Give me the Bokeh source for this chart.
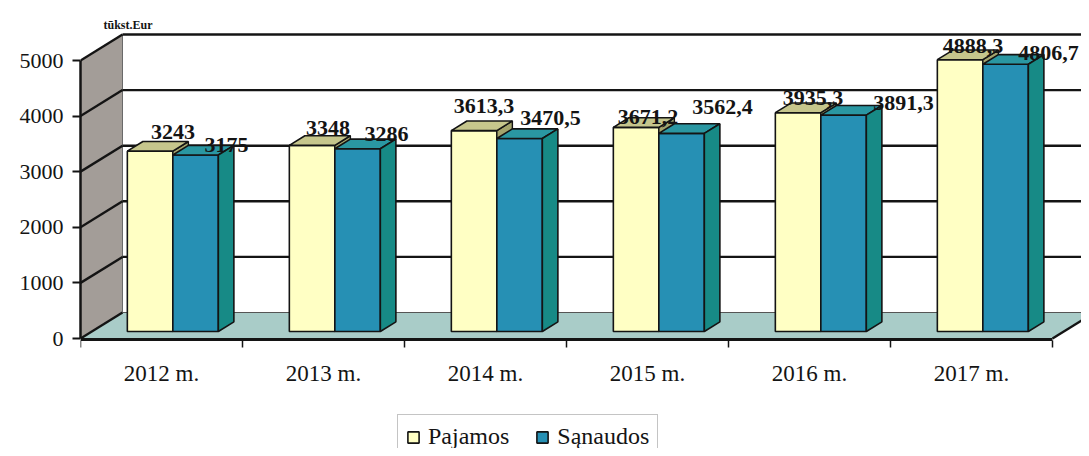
import numpy as np
from bokeh.plotting import figure
from bokeh.models import Range1d, FixedTicker, Legend, LegendItem
from bokeh.core.properties import value
from bokeh.embed import file_html
from bokeh.resources import INLINE

# ---------------- data ----------------
years = ["2012 m.", "2013 m.", "2014 m.", "2015 m.", "2016 m.", "2017 m."]
pajamos = [3243, 3348, 3613.3, 3671.2, 3935.3, 4888.3]
sanaudos = [3175, 3286, 3470.5, 3562.4, 3891.3, 4806.7]
y_ticks = [0, 1000, 2000, 3000, 4000, 5000]
unit_label = "tūkst.Eur"
series_names = ["Pajamos", "Sąnaudos"]

# label nudges in screen pixels (dx from bar-front centre, dy above bar top)
paj_lab_dx = [23, 16, 10, 12, 15, 13]
paj_lab_dy = [19, 17, 25, 10, 15, 14]
san_lab_dx = [31, 29, 31, 41, 60, 43]
san_lab_dy = [10, 15, 21, 26, 12, 11]

# ---------------- geometry / styles ----------------
W, H = 1081, 448
BORDER_L = 80
FRAME_W = W - BORDER_L
PXX = 162.0              # px per category
PXY = 278.0 / 5000.0     # px per value unit
ZERO_FROM_TOP = 338      # px from figure top to value 0
X_END = FRAME_W / PXX
Y_START = -(H - ZERO_FROM_TOP) / PXY
Y_END = ZERO_FROM_TOP / PXY

def dxu(px):
    return px / PXX

def dyu(px):
    return px / PXY

DX, DY = dxu(42), dyu(26)     # full depth of the 3D box
F0, FB = 0.27, 0.37           # bar front depth, bar depth (fractions of box depth)
BW = dxu(45.5)
NCAT = len(years)
YMAX = y_ticks[-1]

FONT = "Liberation Serif"
INK = "#141414"
C_YEL = "#FFFFC4"
C_YEL_TOP = "#C6C68C"
C_YEL_SIDE = "#A4A46C"
C_TEAL = "#2690B4"
C_TEAL_TOP = "#2A97A2"
C_TEAL_SIDE = "#178A86"
C_WALL = "#A39D98"
C_FLOOR = "#A9CCC8"

p = figure(width=W, height=H, x_range=Range1d(0, X_END), y_range=Range1d(Y_START, Y_END),
           output_backend="svg", toolbar_location=None, x_axis_location=None,
           min_border_left=BORDER_L, min_border_right=0, min_border_top=0, min_border_bottom=0)
p.outline_line_color = None
p.grid.visible = False
p.background_fill_color = "white"

# walls / floor
p.patch([0, 0, DX, DX], [0, YMAX, YMAX + DY, DY], fill_color=C_WALL, line_color=None)
p.patch([0, NCAT, NCAT + DX, DX], [0, 0, DY, DY], fill_color=C_FLOOR, line_color=None)
p.segment(x0=[DX], y0=[DY], x1=[NCAT + DX], y1=[DY], line_color="#555555", line_width=1)
p.segment(x0=[DX], y0=[DY], x1=[DX], y1=[YMAX + DY], line_color="#6a6a6a", line_width=1)

# gridlines on back wall and left wall
gt = np.array(y_ticks[1:], dtype=float)
p.segment(x0=np.full(len(gt), DX), y0=gt + DY, x1=np.full(len(gt), X_END), y1=gt + DY,
          line_color=INK, line_width=2.4)
at = np.array(y_ticks, dtype=float)
p.segment(x0=np.zeros(len(at)), y0=at, x1=np.full(len(at), DX), y1=at + DY,
          line_color=INK, line_width=2.4)
p.segment(x0=[NCAT], y0=[0], x1=[NCAT + DX], y1=[DY], line_color=INK, line_width=2.4)

# bars
cat_c = np.arange(NCAT) + 0.5
mid = cat_c + F0 * DX
bot = F0 * DY
bdx, bdy = FB * DX, FB * DY
pv = np.array(pajamos, dtype=float)
sv = np.array(sanaudos, dtype=float)

def faces(left, right, top):
    tops_x = [[l, r, r + bdx, l + bdx] for l, r in zip(left, right)]
    tops_y = [[t, t, t + bdy, t + bdy] for t in top]
    side_x = [[r, r, r + bdx, r + bdx] for r in right]
    side_y = [[bot, t, t + bdy, bot + bdy] for t in top]
    return tops_x, tops_y, side_x, side_y

yl, yr, yt = mid - BW, mid, pv + bot
tl, tr, tt = mid, mid + BW, sv + bot

ytx, yty, ysx, ysy = faces(yl, yr, yt)
ttx, tty, tsx, tsy = faces(tl, tr, tt)

r_yel = p.quad(left=yl, right=yr, bottom=bot, top=yt, fill_color=C_YEL, line_color=INK, line_width=1.6)
p.patches(ysx, ysy, fill_color=C_YEL_SIDE, line_color=INK, line_width=1.4)
p.patches(ytx, yty, fill_color=C_YEL_TOP, line_color=INK, line_width=1.6)
r_teal = p.quad(left=tl, right=tr, bottom=bot, top=tt, fill_color=C_TEAL, line_color=INK, line_width=1.6)
p.patches(ttx, tty, fill_color=C_TEAL_TOP, line_color=INK, line_width=1.6)
p.patches(tsx, tsy, fill_color=C_TEAL_SIDE, line_color=INK, line_width=1.6)

# x axis (front floor edge) with ticks between categories
p.segment(x0=[0], y0=[dyu(-1)], x1=[NCAT], y1=[dyu(-1)], line_color=INK, line_width=3)
bx = np.arange(NCAT + 1, dtype=float)
p.segment(x0=bx, y0=np.full(len(bx), dyu(-2)), x1=bx, y1=np.full(len(bx), dyu(-9)),
          line_color=INK, line_width=1.5)
p.text(x=cat_c, y=np.full(NCAT, dyu(-35)), text=years, text_font=value(FONT),
       text_font_size="23px", text_align="center", text_baseline="alphabetic", text_color=INK)

# value labels
def fmt(v):
    return str(int(v)) if float(v).is_integer() else ("%.1f" % v).replace(".", ",")

lab_x = np.concatenate([mid - BW / 2 + dxu(np.array(paj_lab_dx)), mid + BW / 2 + dxu(np.array(san_lab_dx))])
lab_y = np.concatenate([yt + dyu(np.array(paj_lab_dy)), tt + dyu(np.array(san_lab_dy))])
lab_t = [fmt(v) for v in pajamos] + [fmt(v) for v in sanaudos]
p.text(x=lab_x, y=lab_y, text=lab_t, text_font=value(FONT), text_font_style="bold",
       text_font_size="22px", text_align="center", text_baseline="alphabetic", text_color=INK)

# unit label
p.text(x=[dxu(23)], y=[dyu(314)], text=[unit_label], text_font=value(FONT), text_font_style="bold",
       text_font_size="12px", text_align="left", text_baseline="alphabetic", text_color=INK)

# y axis
ya = p.yaxis[0]
ya.ticker = FixedTicker(ticks=y_ticks, minor_ticks=[])
ya.bounds = (0, YMAX)
ya.axis_line_color = INK
ya.axis_line_width = 2.5
ya.major_tick_line_color = INK
ya.major_tick_line_width = 2
ya.major_tick_out = 8
ya.major_tick_in = 0
ya.minor_tick_out = 0
ya.minor_tick_in = 0
ya.major_label_text_font = FONT
ya.major_label_text_font_size = "22px"
ya.major_label_text_color = INK
ya.major_label_standoff = 9

legend = Legend(items=[LegendItem(label=series_names[0], renderers=[r_yel]),
                       LegendItem(label=series_names[1], renderers=[r_teal])],
                location=(317, -11), orientation="horizontal",
                label_text_font=FONT, label_text_font_size="24px", label_text_color=INK,
                label_text_line_height=0.9, label_height=20,
                glyph_width=14, glyph_height=14, label_standoff=8, spacing=26,
                padding=8, margin=0, border_line_color="#8a8a8a", border_line_width=1.5,
                background_fill_color="white", background_fill_alpha=1.0)
p.add_layout(legend)

open("out.html", "w").write(file_html(p, INLINE))
